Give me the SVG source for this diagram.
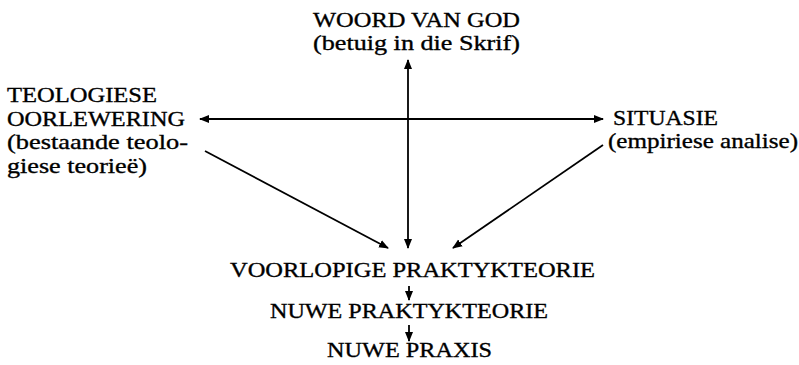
<svg xmlns="http://www.w3.org/2000/svg" width="799" height="365" viewBox="0 0 799 365">
<style>
text{font-family:"Liberation Serif","Times New Roman",serif;font-size:22px;fill:#000;stroke:#000;stroke-width:0.35}
line{stroke:#000;stroke-width:1.8;fill:none}
</style>
<defs>
<marker id="ah" viewBox="0 0 10 10" refX="9" refY="5" markerWidth="10" markerHeight="10" markerUnits="userSpaceOnUse" orient="auto-start-reverse">
<path d="M0,1 L10,5 L0,9 Z" fill="#000"/>
</marker>
</defs>
<rect width="799" height="365" fill="#fff"/>
<g id="woord">
<text x="313" y="27" textLength="207" lengthAdjust="spacingAndGlyphs">WOORD VAN GOD</text>
<text x="313" y="50" textLength="207" lengthAdjust="spacingAndGlyphs">(betuig in die Skrif)</text>
</g>
<g id="teologiese">
<text x="7" y="102" textLength="150" lengthAdjust="spacingAndGlyphs">TEOLOGIESE</text>
<text x="7" y="126" textLength="178" lengthAdjust="spacingAndGlyphs">OORLEWERING</text>
<text x="7" y="149" textLength="181" lengthAdjust="spacingAndGlyphs">(bestaande teolo-</text>
<text x="7" y="173" textLength="140" lengthAdjust="spacingAndGlyphs">giese teorieë)</text>
</g>
<g id="situasie">
<text x="613" y="125" textLength="105" lengthAdjust="spacingAndGlyphs">SITUASIE</text>
<text x="608" y="148" textLength="190" lengthAdjust="spacingAndGlyphs">(empiriese analise)</text>
</g>
<g id="voorlopige">
<text x="230" y="277" textLength="365" lengthAdjust="spacingAndGlyphs">VOORLOPIGE PRAKTYKTEORIE</text>
</g>
<g id="nuwe-teorie">
<text x="270" y="318" textLength="278" lengthAdjust="spacingAndGlyphs">NUWE PRAKTYKTEORIE</text>
</g>
<g id="nuwe-praxis">
<text x="327" y="357" textLength="165" lengthAdjust="spacingAndGlyphs">NUWE PRAXIS</text>
</g>
<g id="connectors">
<line x1="408" y1="60" x2="408" y2="248" marker-start="url(#ah)" marker-end="url(#ah)"/>
<line x1="200" y1="119" x2="603" y2="119" marker-start="url(#ah)" marker-end="url(#ah)"/>
<line x1="205" y1="151" x2="388" y2="248" marker-end="url(#ah)"/>
<line x1="603" y1="145" x2="453" y2="248" marker-end="url(#ah)"/>
<line x1="409" y1="286" x2="409" y2="300" marker-end="url(#ah)"/>
<line x1="409" y1="325" x2="409" y2="341" marker-end="url(#ah)"/>
</g>
</svg>
